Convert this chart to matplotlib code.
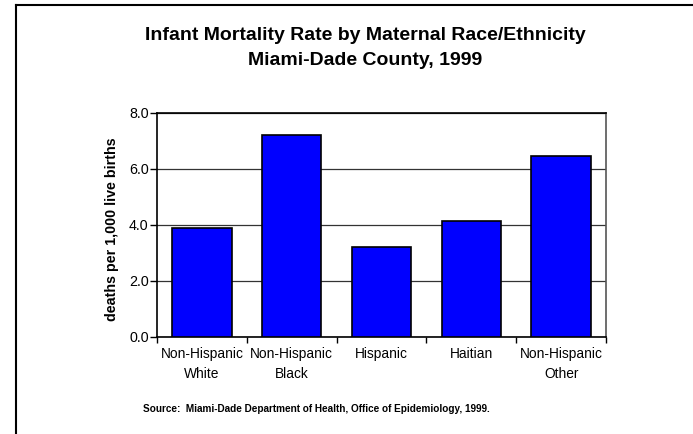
import matplotlib
matplotlib.use("Agg")
import matplotlib.pyplot as plt
from matplotlib.lines import Line2D

categories = ["Non-Hispanic\nWhite", "Non-Hispanic\nBlack", "Hispanic", "Haitian", "Non-Hispanic\nOther"]
values = [3.9, 7.2, 3.2, 4.15, 6.45]
yticks = [0.0, 2.0, 4.0, 6.0, 8.0]

plt.rcParams['font.family'] = ['Liberation Sans', 'DejaVu Sans']

W, H = 693, 434
fig = plt.figure(figsize=(W / 100, H / 100), dpi=100)

def fx(px):
    return px / W

def fy(py):
    return 1 - py / H

# frame lines (left and top visible)
fig.add_artist(Line2D([fx(16), fx(16)], [fy(5), 0], color='black', lw=1.5, transform=fig.transFigure))
fig.add_artist(Line2D([fx(16), fx(692)], [fy(5), fy(5)], color='black', lw=1.5, transform=fig.transFigure))

left, right, top, bottom = 157, 606, 113, 337
ax = fig.add_axes([fx(left), fy(bottom), fx(right - left), (bottom - top) / H])

x = list(range(len(categories)))
ax.bar(x, values, width=0.66, color='#0000FF', edgecolor='black', linewidth=1.2, zorder=3)
ax.set_xlim(-0.5, len(categories) - 0.5)
ax.set_ylim(0, 8)
ax.set_yticks(yticks)
ax.set_yticklabels([f"{v:.1f}" for v in yticks], fontsize=10.3)
ax.yaxis.grid(True, color='#333333', linewidth=0.9, zorder=0)
ax.set_axisbelow(True)

ax.set_xticks([i + 0.5 for i in range(-1, len(categories))])
ax.set_xticklabels([])
ax.set_xticks(x, minor=True)
ax.set_xticklabels(categories, minor=True, fontsize=9.9, linespacing=1.6)
ax.tick_params(axis='x', which='minor', length=0, pad=7)
ax.tick_params(axis='x', which='major', length=4, width=1, color='black', direction='out')
ax.tick_params(axis='y', length=5, width=1, direction='out', pad=1)

for s in ['left', 'bottom', 'top']:
    ax.spines[s].set_color('black')
    ax.spines[s].set_linewidth(1.2)
ax.spines['right'].set_color('#555555')
ax.spines['right'].set_linewidth(1.2)

fig.text(fx(112), fy(229), "deaths per 1,000 live births", rotation=90, ha='center', va='center',
         fontsize=10.3, fontweight='bold')

fig.text(fx(365), fy(35), "Infant Mortality Rate by Maternal Race/Ethnicity", ha='center', va='center',
         fontsize=14, fontweight='bold')
fig.text(fx(365), fy(60), "Miami-Dade County, 1999", ha='center', va='center',
         fontsize=14, fontweight='bold')

fig.text(fx(143), fy(409), "Source:  Miami-Dade Department of Health, Office of Epidemiology, 1999.",
         ha='left', va='center', fontsize=7.2, fontweight='bold')

fig.savefig("out.png", dpi=100, facecolor='white')
